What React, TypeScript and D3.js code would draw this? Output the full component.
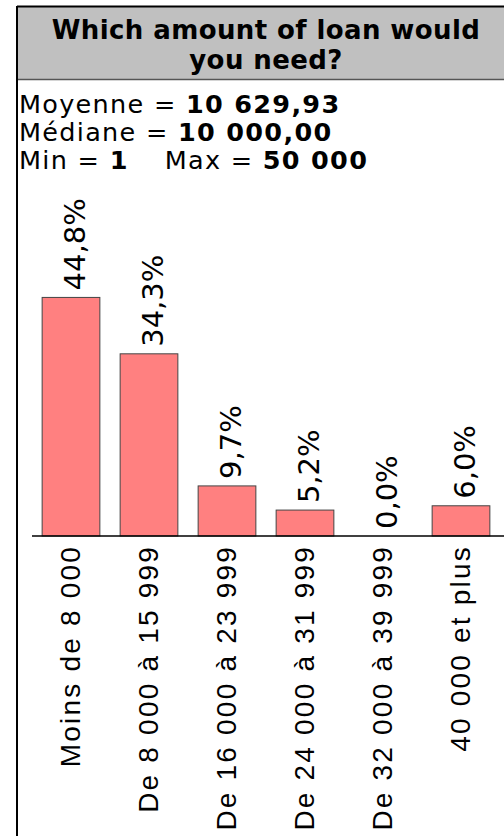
import React from "react";
import * as d3 from "d3";

// Loan amount ranges and the share of respondents in each
const categories = [
  "Moins de 8 000",
  "De 8 000 à 15 999",
  "De 16 000 à 23 999",
  "De 24 000 à 31 999",
  "De 32 000 à 39 999",
  "40 000 et plus",
];
const shares = [44.8, 34.3, 9.7, 5.2, 0.0, 6.0];

const titleLines = ["Which amount of loan would", "you need?"];
const statLines: { label: string; value: string }[][] = [
  [{ label: "Moyenne = ", value: "10 629,93" }],
  [{ label: "Médiane = ", value: "10 000,00" }],
  [
    { label: "Min = ", value: "1" },
    { label: "Max = ", value: "50 000" },
  ],
];

const W = 504;
const H = 836;
const FRAME_X = 17;
const BASE_Y = 536;

const fmt = (v: number) => v.toFixed(1).replace(".", ",") + "%";

export default function App() {
  const x = d3
    .scaleBand<string>()
    .domain(categories)
    .range([32, 500])
    .paddingInner(0.26)
    .paddingOuter(0.13);
  const y = d3.scaleLinear().domain([0, 50]).range([538, 269.5]);

  return (
    <svg
      width={W}
      height={H}
      style={{ position: "absolute", left: 0, top: 0, background: "#fff" }}
    >
      {/* title band */}
      <rect x={FRAME_X} y={6} width={W} height={74} fill="#c0c0c0" />
      <line x1={FRAME_X} x2={W} y1={6.5} y2={6.5} stroke="#000" strokeWidth={2} />
      <line x1={FRAME_X} x2={W} y1={79.5} y2={79.5} stroke="#555" strokeWidth={1.5} />
      <line x1={FRAME_X} x2={FRAME_X} y1={6} y2={H} stroke="#000" strokeWidth={2} />
      {titleLines.map((t, i) => (
        <text
          key={t}
          x={266}
          y={39 + i * 30}
          textAnchor="middle"
          fontFamily="DejaVu Sans"
          fontWeight="bold"
          fontSize={26}
          letterSpacing={0.4}
          fill="#000"
        >
          {t}
        </text>
      ))}

      {/* summary statistics */}
      {statLines.map((parts, i) => (
        <text
          key={i}
          x={19}
          y={113 + i * 28}
          fontFamily="DejaVu Sans"
          fontSize={25.5}
          letterSpacing={1.3}
          fill="#000"
          style={{ whiteSpace: "pre" }}
        >
          {parts.map((p, j) => (
            <React.Fragment key={j}>
              <tspan dx={j > 0 ? 36 : 0}>{p.label}</tspan>
              <tspan fontWeight="bold">{p.value}</tspan>
            </React.Fragment>
          ))}
        </text>
      ))}

      {/* bars */}
      {categories.map((c, i) => {
        const v = shares[i];
        const top = y(v);
        if (v <= 0) return null;
        return (
          <rect
            key={c}
            x={x(c)!}
            y={top}
            width={x.bandwidth()}
            height={BASE_Y - top}
            fill="#ff8080"
            stroke="#444"
            strokeWidth={1}
          />
        );
      })}

      {/* value labels */}
      {categories.map((c, i) => {
        const cx = x(c)! + x.bandwidth() / 2;
        const ty = Math.min(y(shares[i]), BASE_Y) - 7;
        return (
          <text
            key={c}
            transform={`translate(${cx + 14},${ty}) rotate(-90)`}
            fontFamily="DejaVu Sans"
            fontSize={29}
            fill="#000"
          >
            {fmt(shares[i])}
          </text>
        );
      })}

      {/* baseline */}
      <line x1={32} x2={W} y1={BASE_Y} y2={BASE_Y} stroke="#000" strokeWidth={1.5} />

      {/* category labels */}
      {categories.map((c) => {
        const cx = x(c)! + x.bandwidth() / 2;
        return (
          <text
            key={c}
            transform={`translate(${cx + 9},${BASE_Y + 9}) rotate(-90)`}
            textAnchor="end"
            fontFamily="Liberation Sans"
            fontSize={28}
            letterSpacing={2.2}
            fill="#000"
          >
            {c}
          </text>
        );
      })}
    </svg>
  );
}
